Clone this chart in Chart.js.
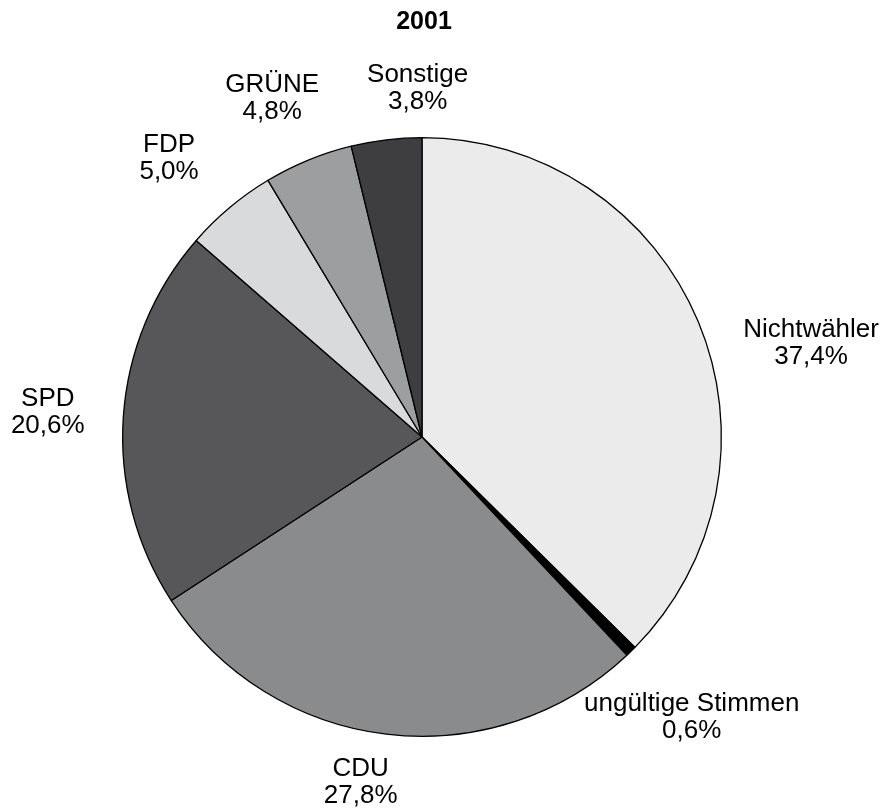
<!DOCTYPE html>
<html>
<head>
<meta charset="utf-8">
<script src="https://cdn.jsdelivr.net/npm/chart.js@4.4.1/dist/chart.umd.min.js"></script>
<style>
  body { margin: 0; background: #fff; }
  #wrap { width: 885px; height: 810px; }
</style>
</head>
<body>
<div id="wrap"><canvas id="pie" width="885" height="810"></canvas></div>
<script>
// data (clockwise from 12 o'clock)
const chartTitle = "2001";
const parties = ["Nichtwähler", "ungültige Stimmen", "CDU", "SPD", "FDP", "GRÜNE", "Sonstige"];
const shares = [37.4, 0.6, 27.8, 20.6, 5.0, 4.8, 3.8];
const sliceColors = ["#ebebeb", "#000000", "#8a8b8d", "#575759", "#d9dadc", "#9d9ea0", "#3e3e40"];

// small per-label position tweaks (px), labels only
const labelNudge = {
  "Nichtwähler": [30, 45],
  "ungültige Stimmen": [-2, 23],
  "CDU": [-15, -11],
  "SPD": [14, 0],
  "FDP": [-3, -3],
  "GRÜNE": [-2, -6],
  "Sonstige": [42, 8]
};

const fontFam = "'Liberation Sans', Arial, sans-serif";

const outsideLabels = {
  id: 'outsideLabels',
  afterDraw(chart) {
    const c = chart.ctx;
    const meta = chart.getDatasetMeta(0);
    c.save();
    c.fillStyle = '#000';
    c.textAlign = 'center';
    c.textBaseline = 'middle';

    // title
    c.font = "bold 25px " + fontFam;
    c.fillText(chartTitle, 424, 22);

    c.font = "26px " + fontFam;
    meta.data.forEach((arc, i) => {
      const mid = (arc.startAngle + arc.endAngle) / 2;
      const r = arc.outerRadius;
      const nudge = labelNudge[parties[i]] || [0, 0];
      const x = arc.x + Math.cos(mid) * r * 1.3 + nudge[0];
      const y = arc.y + Math.sin(mid) * r * 1.2 + nudge[1];
      const pct = shares[i].toFixed(1).replace('.', ',') + '%';
      c.fillText(parties[i], x, y - 13.5);
      c.fillText(pct, x, y + 13.5);
    });
    c.restore();
  }
};

new Chart(document.getElementById('pie'), {
  type: 'pie',
  data: {
    labels: parties,
    datasets: [{
      data: shares,
      backgroundColor: sliceColors,
      borderColor: '#000',
      borderWidth: 1.3
    }]
  },
  options: {
    responsive: false,
    animation: false,
    layout: { padding: { left: 122, right: 163, top: 137, bottom: 73 } },
    plugins: {
      legend: { display: false },
      tooltip: { enabled: false },
      title: { display: false }
    }
  },
  plugins: [outsideLabels]
});
</script>
</body>
</html>
